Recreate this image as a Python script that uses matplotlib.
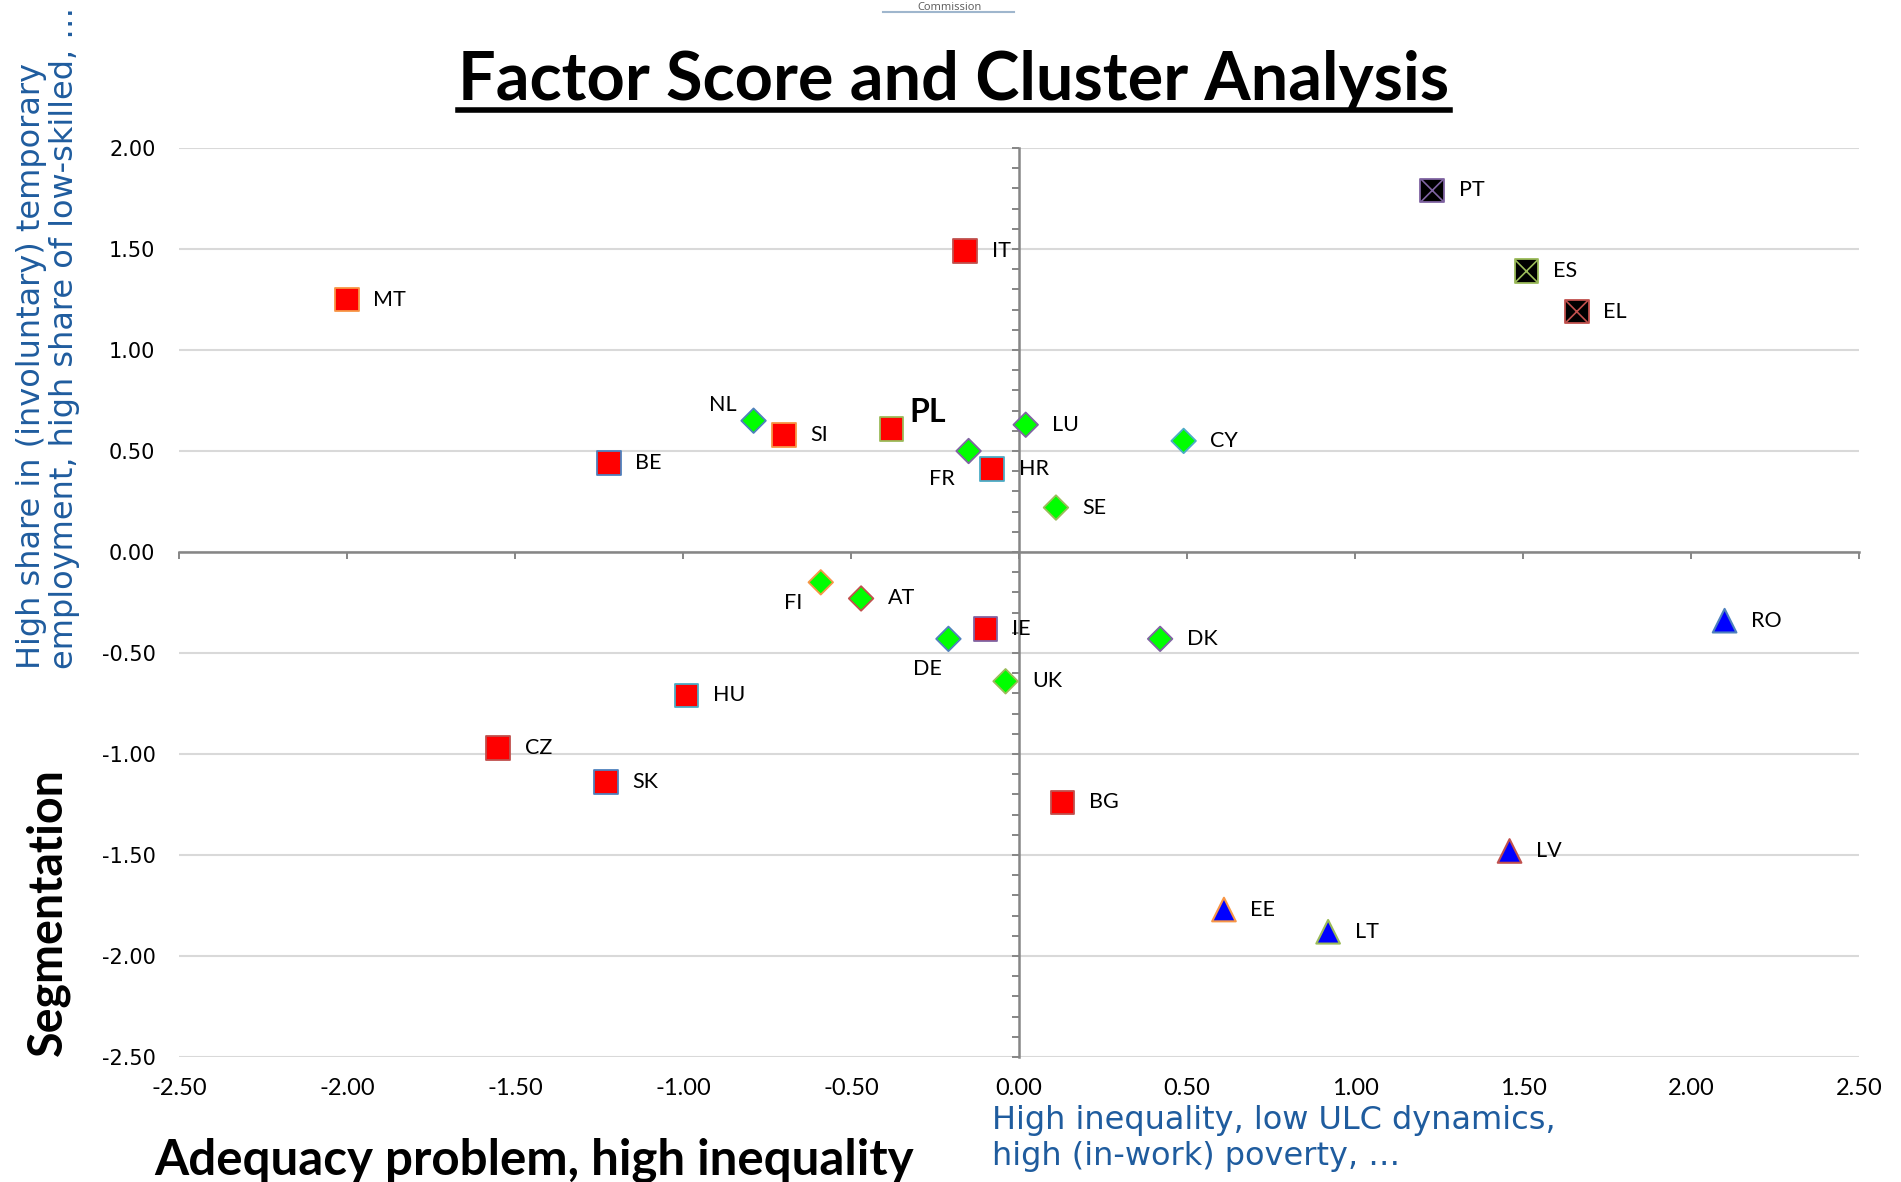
import matplotlib
matplotlib.use("Agg")
import matplotlib.pyplot as plt
import matplotlib.ticker as mticker
from matplotlib.lines import Line2D
import numpy as np

W, H = 1901, 1182

# ── data (factor scores) ──────────────────────────────────────────────────────
red_names = ["IT", "MT", "SI", "PL", "BE", "HR", "IE", "HU", "CZ", "SK", "BG"]
red_x     = [-0.16, -2.00, -0.70, -0.38, -1.22, -0.08, -0.10, -0.99, -1.55, -1.23, 0.13]
red_y     = [1.49, 1.25, 0.58, 0.61, 0.44, 0.41, -0.38, -0.71, -0.97, -1.14, -1.24]

green_names = ["NL", "LU", "CY", "FR", "SE", "FI", "AT", "DE", "DK", "UK"]
green_x     = [-0.79, 0.02, 0.49, -0.15, 0.11, -0.59, -0.47, -0.21, 0.42, -0.04]
green_y     = [0.65, 0.63, 0.55, 0.50, 0.22, -0.15, -0.23, -0.43, -0.43, -0.64]

black_names = ["PT", "ES", "EL"]
black_x     = [1.23, 1.51, 1.66]
black_y     = [1.79, 1.39, 1.19]

blue_names = ["RO", "LV", "EE", "LT"]
blue_x     = [2.10, 1.46, 0.61, 0.92]
blue_y     = [-0.34, -1.48, -1.77, -1.88]

x_ticks = np.arange(-2.5, 2.51, 0.5)
y_ticks = np.arange(-2.5, 2.01, 0.5)

# ── styles ────────────────────────────────────────────────────────────────────
XL_BLUE, XL_RED, XL_GREEN = "#4F81BD", "#C0504D", "#9BBB59"
XL_PURP, XL_AQUA, XL_ORNG = "#8064A2", "#4BACC6", "#F79646"
red_edges   = [XL_RED, XL_ORNG, XL_ORNG, XL_GREEN, XL_BLUE, XL_AQUA,
               XL_PURP, XL_AQUA, XL_RED, XL_BLUE, XL_RED]
green_edges = [XL_BLUE, XL_PURP, XL_AQUA, XL_PURP, XL_GREEN, XL_ORNG,
               XL_RED, XL_BLUE, XL_PURP, XL_GREEN]
black_edges = [XL_PURP, XL_GREEN, XL_RED]
blue_edges  = [XL_BLUE, XL_RED, XL_ORNG, XL_GREEN]

AX_GREY = "#868686"
LBL_BLUE = "#1F5C9E"

# label offsets in points for the few labels not sitting to the right
OFFSETS = {
    "NL": (-12, 11, "right"),
    "FR": (-10, -20, "right"),
    "FI": (-13, -15, "right"),
    "DE": (-5, -22, "right"),
    "PL": (13, 12, "left"),
}
DEFAULT_OFF = (19, 0, "left")

fig = plt.figure(figsize=(W / 100, H / 100), dpi=100)
ax = fig.add_axes([179 / W, 1 - 1057 / H, 1680 / W, 909 / H])

ax.set_xlim(-2.5, 2.5)
ax.set_ylim(-2.5, 2.0)

for s in ("top", "right"):
    ax.spines[s].set_visible(False)
for s in ("left", "bottom"):
    ax.spines[s].set_position(("data", 0))
    ax.spines[s].set_color(AX_GREY)
    ax.spines[s].set_linewidth(1.8)

ax.set_xticks(x_ticks)
ax.set_yticks(y_ticks)
ax.yaxis.set_minor_locator(mticker.MultipleLocator(0.1))
ax.tick_params(axis="x", direction="out", length=5, width=1.4,
               color=AX_GREY, labelbottom=False)
ax.tick_params(axis="y", which="both", direction="out", length=5, width=1.4,
               color=AX_GREY, labelleft=False)
ax.yaxis.grid(True, color="#D9D9D9", lw=1.5)
ax.set_axisbelow(True)

# tick labels sit at the outer frame, not at the crossing axes
sx = ax.secondary_xaxis(0)
sx.spines["bottom"].set_visible(False)
sx.set_xticks(x_ticks)
sx.xaxis.set_major_formatter(mticker.FormatStrFormatter("%.2f"))
sx.tick_params(length=0, pad=15, labelsize=17)
for t in sx.get_xticklabels():
    t.set_family("Lato")

sy = ax.secondary_yaxis(0)
sy.spines["left"].set_visible(False)
sy.set_yticks(y_ticks)
sy.yaxis.set_major_formatter(mticker.FormatStrFormatter("%.2f"))
sy.tick_params(length=0, pad=17, labelsize=15)

# ── markers ───────────────────────────────────────────────────────────────────
ax.scatter(red_x, red_y, marker="s", s=17**2, c="#FF0000",
           edgecolors=red_edges, linewidths=1.3, zorder=3)
ax.scatter(green_x, green_y, marker="D", s=12.5**2, c="#00FF00",
           edgecolors=green_edges, linewidths=1.3, zorder=3)
ax.scatter(black_x, black_y, marker="s", s=17**2, c="black",
           edgecolors=black_edges, linewidths=1.3, zorder=3)
ax.scatter(black_x, black_y, marker="x", s=16**2, c=black_edges,
           linewidths=1.2, zorder=4)
ax.scatter(blue_x, blue_y, marker="^", s=17**2, c="#0000FF",
           edgecolors=blue_edges, linewidths=1.5, zorder=3)

names = red_names + green_names + black_names + blue_names
xs = red_x + green_x + black_x + blue_x
ys = red_y + green_y + black_y + blue_y
for n, x, y in zip(names, xs, ys):
    dx, dy, ha = OFFSETS.get(n, DEFAULT_OFF)
    bold = n == "PL"
    ax.annotate(n, (x, y), xytext=(dx, dy), textcoords="offset points",
                ha=ha, va="center", family="Lato",
                fontsize=23 if bold else 15.5,
                fontweight="bold" if bold else "normal", zorder=5)

# ── titles / axis captions ────────────────────────────────────────────────────
title = fig.text(954 / W, 1 - 100 / H, "Factor Score and Cluster Analysis",
                 ha="center", va="baseline", family="Lato",
                 fontweight="bold", fontsize=48)

fig.text(949 / W, 1 - 10 / H, "Commission", ha="center", va="baseline",
         fontsize=8, color="#595959", family="Open Sans")
fig.add_artist(Line2D([883 / W, 1014 / W], [1 - 12 / H, 1 - 12 / H],
                      color="#9FB6CD", lw=1.5))

fig.text(48 / W, 1 - 669 / H,
         "High share in (involuntary) temporary\nemployment, high share of low-skilled, \u2026",
         rotation=90, ha="center", va="bottom", multialignment="left",
         fontsize=23, color=LBL_BLUE, linespacing=1.12)

fig.text(48 / W, 1 - 912 / H, "Segmentation", rotation=90,
         ha="center", va="center", family="Lato", fontweight="bold",
         fontsize=33.5)

fig.text(154 / W, 1 - 1160 / H, "Adequacy problem, high inequality",
         ha="left", va="center", family="Lato", fontweight="bold",
         fontsize=35.5)

fig.text(992 / W, 1 - 1105 / H,
         "High inequality, low ULC dynamics,\nhigh (in-work) poverty, \u2026",
         ha="left", va="top", fontsize=23, color=LBL_BLUE, linespacing=1.2)

# underline the title
fig.canvas.draw()
bb = title.get_window_extent(fig.canvas.get_renderer())
fig.add_artist(Line2D([bb.x0 / W, bb.x1 / W], [1 - 110 / H, 1 - 110 / H],
                      color="black", lw=4.0))

fig.savefig("out.png", dpi=100)
